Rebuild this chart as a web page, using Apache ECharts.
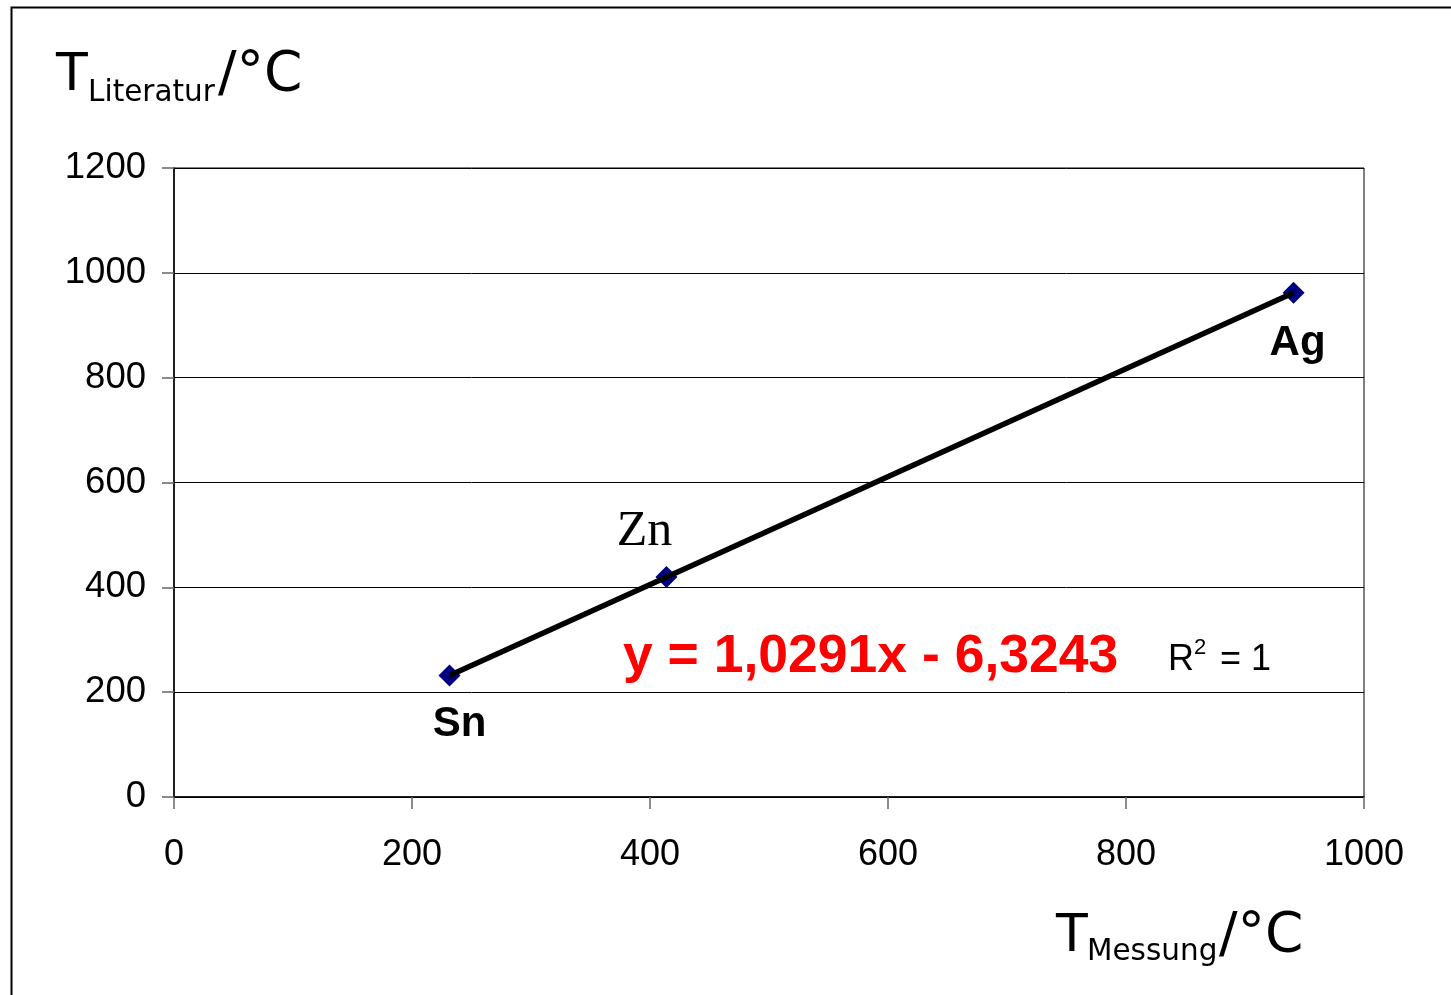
<!DOCTYPE html>
<html>
<head>
<meta charset="utf-8">
<script src="https://cdn.jsdelivr.net/npm/echarts@6/dist/echarts.min.js"></script>
<style>
html,body{margin:0;padding:0;background:#fff;}
#main{width:1451px;height:995px;}
</style>
</head>
<body>
<div id="main"></div>
<script>
// Data
const elements = ['Sn', 'Zn', 'Ag'];
const tMessung = [231.5, 413.8, 940.8];
const tLiteratur = [231.9, 419.5, 961.8];
const trendX = [231.5, 940.8];
const trendY = [231.9, 961.8];
const xTicks = [0, 200, 400, 600, 800, 1000];
const yTicks = [0, 200, 400, 600, 800, 1000, 1200];
const equationText = 'y = 1,0291x - 6,3243';

const chart = echarts.init(document.getElementById('main'), null, {renderer: 'canvas'});

const labelStyles = {
  Sn: {position: 'bottom', distance: 17, offset: [10, 0], fontFamily: 'Liberation Sans, Arial, sans-serif', fontWeight: 'bold', fontSize: 42, color: '#000'},
  Zn: {position: 'top', distance: 9, offset: [-22, 0], fontFamily: 'Liberation Serif, Times New Roman, serif', fontWeight: 'normal', fontSize: 50, color: '#000'},
  Ag: {position: 'bottom', distance: 19, offset: [4, 0], fontFamily: 'Liberation Sans, Arial, sans-serif', fontWeight: 'bold', fontSize: 42, color: '#000'}
};

const pointData = elements.map((name, i) => ({
  name: name,
  value: [tMessung[i], tLiteratur[i]],
  label: Object.assign({show: true, formatter: '{b}', opacity: 1}, labelStyles[name])
}));

const trendData = trendX.map((x, i) => [x, trendY[i]]);

const titleFont = '"DejaVu Sans", sans-serif';
const tickFmt = v => String(v);

chart.setOption({
  animation: false,
  backgroundColor: '#fff',
  grid: {left: 174, right: 87, top: 168, bottom: 198, show: true, borderColor: '#000', borderWidth: 1, backgroundColor: 'transparent'},
  xAxis: {
    type: 'value', min: xTicks[0], max: xTicks[xTicks.length - 1], interval: 200,
    axisLine: {show: true, lineStyle: {color: '#000', width: 1.5}},
    axisTick: {show: true, length: 12, lineStyle: {color: '#666', width: 1.5}},
    axisLabel: {margin: 40, formatter: tickFmt, fontFamily: 'Liberation Sans, Arial, sans-serif', fontSize: 36, color: '#000'},
    splitLine: {show: false}
  },
  yAxis: {
    type: 'value', min: yTicks[0], max: yTicks[yTicks.length - 1], interval: 200,
    axisLine: {show: true, lineStyle: {color: '#000', width: 1.5}},
    axisTick: {show: true, length: 12, lineStyle: {color: '#666', width: 1.5}},
    axisLabel: {margin: 28, formatter: tickFmt, fontFamily: 'Liberation Sans, Arial, sans-serif', fontSize: 36.5, color: '#000'},
    splitLine: {show: true, lineStyle: {color: '#000', width: 1}}
  },
  series: [
    {
      type: 'scatter',
      symbol: 'diamond',
      symbolSize: 22,
      itemStyle: {color: '#000080', opacity: 1},
      data: pointData,
      z: 3
    },
    {
      type: 'line',
      data: trendData,
      showSymbol: false,
      symbol: 'none',
      lineStyle: {color: '#000', width: 5.5},
      z: 4,
      silent: true
    }
  ],
  graphic: [
    {type: 'rect', left: 9, top: 5, shape: {width: 1480, height: 1040}, style: {fill: 'none', stroke: '#000', lineWidth: 2}, silent: true},
    // y axis title
    {type: 'text', left: 56, top: 50, style: {text: 'T', font: '52px ' + titleFont, fill: '#000'}},
    {type: 'text', left: 88, top: 78, style: {text: 'Literatur', font: '29.5px ' + titleFont, fill: '#000'}},
    {type: 'text', left: 218, top: 48, style: {text: '/°C', font: '55px ' + titleFont, fill: '#000'}},
    // x axis title
    {type: 'text', left: 1056, top: 911, style: {text: 'T', font: '52px ' + titleFont, fill: '#000'}},
    {type: 'text', left: 1087, top: 937, style: {text: 'Messung', font: '29.5px ' + titleFont, fill: '#000'}},
    {type: 'text', left: 1219, top: 909, style: {text: '/°C', font: '55px ' + titleFont, fill: '#000'}},
    // equation
    {type: 'text', left: 623, top: 630, style: {text: equationText, font: 'bold 53.5px "Liberation Sans", Arial, sans-serif', fill: '#ff0000'}},
    // R^2
    {type: 'text', left: 1168, top: 642, style: {text: 'R', font: '36px "Liberation Sans", Arial, sans-serif', fill: '#000'}},
    {type: 'text', left: 1194, top: 637, style: {text: '2', font: '22px "Liberation Sans", Arial, sans-serif', fill: '#000'}},
    {type: 'text', left: 1210, top: 642, style: {text: ' = 1', font: '36px "Liberation Sans", Arial, sans-serif', fill: '#000'}}
  ]
});
</script>
</body>
</html>
